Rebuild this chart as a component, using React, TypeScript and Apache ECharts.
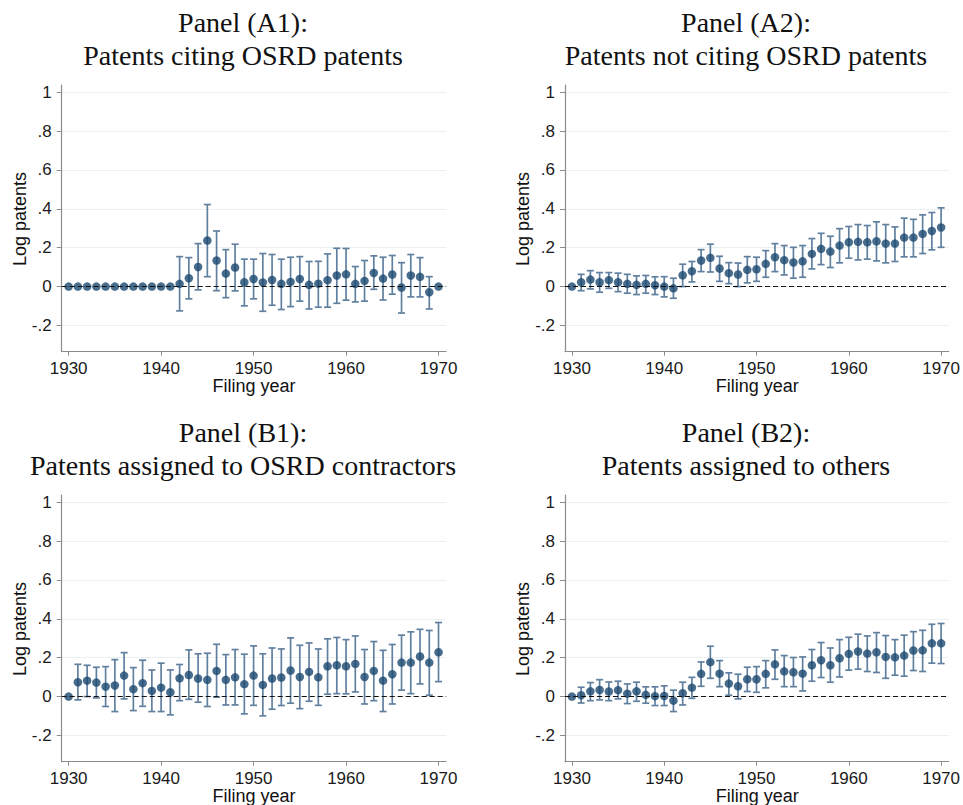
import React, { useEffect, useRef } from "react";
import * as echarts from "echarts";

const years: number[] = [
  1930, 1931, 1932, 1933, 1934, 1935, 1936, 1937, 1938, 1939,
  1940, 1941, 1942, 1943, 1944, 1945, 1946, 1947, 1948, 1949,
  1950, 1951, 1952, 1953, 1954, 1955, 1956, 1957, 1958, 1959,
  1960, 1961, 1962, 1963, 1964, 1965, 1966, 1967, 1968, 1969, 1970,
];

const yTicks = [-0.2, 0, 0.2, 0.4, 0.6, 0.8, 1];
const xTicks = [1930, 1940, 1950, 1960, 1970];

const titlesA1 = ["Panel (A1):", "Patents citing OSRD patents"];
const titlesA2 = ["Panel (A2):", "Patents not citing OSRD patents"];
const titlesB1 = ["Panel (B1):", "Patents assigned to OSRD contractors"];
const titlesB2 = ["Panel (B2):", "Patents assigned to others"];

const yTitle = "Log patents";
const xTitle = "Filing year";

// Panel A1
const estA1 = [
  0, 0, 0, 0, 0, 0, 0, 0, 0, 0,
  0, 0, 0.014, 0.043, 0.101, 0.237, 0.134, 0.067, 0.098, 0.022,
  0.039, 0.021, 0.034, 0.014, 0.024, 0.039, 0.009, 0.015, 0.033, 0.057,
  0.063, 0.014, 0.029, 0.07, 0.041, 0.062, -0.005, 0.057, 0.05, -0.029, 0,
];
const loA1 = [
  null, null, null, null, null, null, null, null, null, null,
  null, null, -0.125, -0.063, -0.017, 0.051, -0.021, -0.057, -0.022, -0.099,
  -0.063, -0.127, -0.096, -0.118, -0.103, -0.075, -0.115, -0.106, -0.106, -0.086,
  -0.07, -0.079, -0.075, -0.014, -0.069, -0.039, -0.136, -0.053, -0.053, -0.115, null,
];
const hiA1 = [
  null, null, null, null, null, null, null, null, null, null,
  null, null, 0.154, 0.149, 0.221, 0.422, 0.286, 0.19, 0.218, 0.141,
  0.141, 0.17, 0.165, 0.141, 0.151, 0.154, 0.129, 0.13, 0.168, 0.197,
  0.196, 0.103, 0.134, 0.158, 0.151, 0.16, 0.123, 0.165, 0.149, 0.051, null,
];

// Panel A2
const estA2 = [
  0, 0.022, 0.036, 0.022, 0.033, 0.022, 0.014, 0.009, 0.014, 0.007,
  0, -0.009, 0.058, 0.079, 0.134, 0.148, 0.093, 0.069, 0.062, 0.086,
  0.089, 0.117, 0.151, 0.136, 0.124, 0.13, 0.168, 0.194, 0.18, 0.211,
  0.228, 0.23, 0.228, 0.233, 0.221, 0.221, 0.252, 0.252, 0.271, 0.286, 0.304,
];
const loA2 = [
  null, -0.021, -0.012, -0.029, -0.009, -0.026, -0.034, -0.041, -0.034, -0.041,
  -0.053, -0.06, 0.0, 0.024, 0.077, 0.075, 0.027, 0.015, 0.0, 0.019,
  0.027, 0.048, 0.077, 0.06, 0.043, 0.048, 0.091, 0.113, 0.098, 0.122,
  0.146, 0.137, 0.141, 0.132, 0.122, 0.129, 0.153, 0.153, 0.17, 0.189, 0.202,
];
const hiA2 = [
  null, 0.063, 0.082, 0.072, 0.072, 0.069, 0.063, 0.055, 0.057, 0.05,
  0.051, 0.043, 0.115, 0.129, 0.19, 0.218, 0.156, 0.123, 0.121, 0.154,
  0.151, 0.185, 0.221, 0.211, 0.202, 0.211, 0.247, 0.274, 0.259, 0.298,
  0.309, 0.319, 0.314, 0.333, 0.319, 0.307, 0.352, 0.346, 0.369, 0.381, 0.405,
];

// Panel B1
const estB1 = [
  0, 0.074, 0.082, 0.072, 0.051, 0.057, 0.108, 0.038, 0.069, 0.029,
  0.046, 0.022, 0.094, 0.111, 0.093, 0.086, 0.132, 0.086, 0.099, 0.064,
  0.108, 0.06, 0.093, 0.098, 0.134, 0.101, 0.127, 0.099, 0.156, 0.161,
  0.156, 0.168, 0.101, 0.132, 0.082, 0.115, 0.175, 0.175, 0.206, 0.175, 0.228,
];
const loB1 = [
  null, -0.017, 0.0, -0.007, -0.051, -0.077, -0.012, -0.072, -0.05, -0.077,
  -0.077, -0.094, -0.021, -0.014, -0.029, -0.051, -0.003, -0.043, -0.043, -0.089,
  -0.045, -0.099, -0.065, -0.046, -0.034, -0.062, -0.024, -0.045, 0.012, 0.015,
  0.014, 0.024, -0.038, -0.021, -0.077, -0.038, 0.033, 0.015, 0.065, 0.007, 0.077,
];
const hiB1 = [
  null, 0.166, 0.161, 0.151, 0.154, 0.19, 0.226, 0.149, 0.187, 0.137,
  0.172, 0.137, 0.165, 0.24, 0.22, 0.223, 0.269, 0.216, 0.242, 0.218,
  0.261, 0.22, 0.25, 0.245, 0.302, 0.264, 0.276, 0.245, 0.297, 0.304,
  0.293, 0.312, 0.242, 0.283, 0.238, 0.268, 0.316, 0.333, 0.346, 0.34, 0.381,
];

// Panel B2
const estB2 = [
  0, 0.007, 0.027, 0.034, 0.026, 0.033, 0.015, 0.027, 0.009, 0.002,
  0.003, -0.021, 0.017, 0.046, 0.117, 0.177, 0.118, 0.067, 0.053, 0.089,
  0.089, 0.117, 0.166, 0.13, 0.125, 0.118, 0.161, 0.187, 0.161, 0.197,
  0.22, 0.232, 0.221, 0.228, 0.204, 0.202, 0.211, 0.237, 0.238, 0.274, 0.274,
];
const loB2 = [
  null, -0.033, -0.021, -0.017, -0.021, -0.012, -0.036, -0.024, -0.034, -0.046,
  -0.046, -0.077, -0.043, -0.009, 0.053, 0.094, 0.051, 0.007, -0.012, 0.026,
  0.022, 0.045, 0.089, 0.051, 0.051, 0.029, 0.079, 0.098, 0.074, 0.101,
  0.136, 0.141, 0.129, 0.124, 0.094, 0.11, 0.105, 0.134, 0.129, 0.172, 0.17,
];
const hiB2 = [
  null, 0.048, 0.072, 0.087, 0.075, 0.079, 0.065, 0.074, 0.05, 0.05,
  0.055, 0.033, 0.074, 0.099, 0.178, 0.259, 0.185, 0.122, 0.115, 0.151,
  0.154, 0.185, 0.24, 0.211, 0.201, 0.204, 0.242, 0.278, 0.25, 0.293,
  0.305, 0.321, 0.312, 0.329, 0.314, 0.293, 0.316, 0.334, 0.341, 0.372, 0.376,
];

const panels = [
  { titles: titlesA1, est: estA1, lo: loA1, hi: hiA1 },
  { titles: titlesA2, est: estA2, lo: loA2, hi: hiA2 },
  { titles: titlesB1, est: estB1, lo: loB1, hi: hiB1 },
  { titles: titlesB2, est: estB2, lo: loB2, hi: hiB2 },
];

const NAVY = "#1a476f";
const BAR = "#61809f";
const AXIS = "#8c8c8c";
const GRIDC = "#e9f0f2";
const SANS = "'Liberation Sans', Arial, sans-serif";
const SERIF = "'Liberation Serif', 'Times New Roman', serif";

const GRID_W = 384.5;
const GRID_H = 266.7;
const positions = [
  { left: 61.7, top: 85 },
  { left: 565, top: 85 },
  { left: 61.7, top: 495 },
  { left: 565, top: 495 },
];

function fmtY(v: number): string {
  if (Math.abs(v) < 1e-9) return "0";
  if (Math.abs(v - 1) < 1e-9) return "1";
  const s = v.toFixed(1);
  return s.replace(/^(-?)0\./, "$1.");
}

export default function App() {
  const ref = useRef<HTMLDivElement>(null);

  useEffect(() => {
    if (!ref.current) return;
    const chart = echarts.init(ref.current, undefined, { renderer: "svg" });

    const grid: any[] = [];
    const xAxis: any[] = [];
    const yAxis: any[] = [];
    const series: any[] = [];
    const graphic: any[] = [];

    panels.forEach((p, i) => {
      const pos = positions[i];
      grid.push({ left: pos.left, top: pos.top, width: GRID_W, height: GRID_H, containLabel: false });
      xAxis.push({
        type: "value",
        gridIndex: i,
        min: 1929.25,
        max: 1970.83,
        axisLine: { show: true, onZero: false, lineStyle: { color: AXIS, width: 1.2 } },
        axisTick: { show: true, length: 4, lineStyle: { color: AXIS }, customValues: xTicks },
        axisLabel: {
          customValues: xTicks,
          margin: 8,
          color: "#1a1a1a",
          fontFamily: SANS,
          fontSize: 17,
          formatter: (v: number) => String(Math.round(v)),
        },
        splitLine: { show: false },
      });
      yAxis.push({
        type: "value",
        gridIndex: i,
        min: -0.335,
        max: 1.037,
        axisLine: { show: true, onZero: false, lineStyle: { color: AXIS, width: 1.2 } },
        axisTick: { show: true, length: 5, lineStyle: { color: AXIS }, customValues: yTicks },
        axisLabel: {
          customValues: yTicks,
          margin: 10,
          color: "#1a1a1a",
          fontFamily: SANS,
          fontSize: 17,
          formatter: (v: number) => fmtY(v),
        },
        splitLine: { show: true, lineStyle: { color: GRIDC, width: 1 } },
      });

      const bars: any[] = [];
      years.forEach((yr, k) => {
        if (p.lo[k] !== null && p.hi[k] !== null) bars.push([yr, p.lo[k], p.hi[k]]);
      });

      series.push({
        type: "custom",
        xAxisIndex: i,
        yAxisIndex: i,
        z: 2,
        silent: true,
        data: bars,
        renderItem: (params: any, api: any) => {
          const x = api.value(0);
          const a = api.coord([x, api.value(1)]);
          const b = api.coord([x, api.value(2)]);
          const cw = 3.5;
          const st = { stroke: BAR, lineWidth: 1.7 };
          return {
            type: "group",
            children: [
              { type: "line", shape: { x1: a[0], y1: a[1], x2: b[0], y2: b[1] }, style: st },
              { type: "line", shape: { x1: a[0] - cw, y1: a[1], x2: a[0] + cw, y2: a[1] }, style: st },
              { type: "line", shape: { x1: b[0] - cw, y1: b[1], x2: b[0] + cw, y2: b[1] }, style: st },
            ],
          };
        },
        markLine: {
          silent: true,
          symbol: "none",
          label: { show: false },
          lineStyle: { color: "#111", width: 1.1, type: [5, 3] },
          data: [{ yAxis: 0 }],
        },
      });

      series.push({
        type: "scatter",
        xAxisIndex: i,
        yAxisIndex: i,
        z: 3,
        silent: true,
        symbol: "circle",
        symbolSize: 8.5,
        itemStyle: { color: NAVY },
        data: years.map((yr, k) => [yr, p.est[k]]),
      });

      const cx = i % 2 === 0 ? 243 : 746;
      const ty = i < 2 ? 0 : 410;
      graphic.push({
        type: "text",
        x: cx,
        y: 22 + ty,
        style: { text: p.titles[0], fontFamily: SERIF, fontSize: 28, fill: "#111", textAlign: "center", textVerticalAlign: "middle" },
      });
      graphic.push({
        type: "text",
        x: cx,
        y: 55 + ty,
        style: { text: p.titles[1], fontFamily: SERIF, fontSize: 28, fill: "#111", textAlign: "center", textVerticalAlign: "middle" },
      });
      graphic.push({
        type: "text",
        x: pos.left - 42,
        y: 219 + ty,
        rotation: Math.PI / 2,
        style: { text: yTitle, fontFamily: SANS, fontSize: 18, fill: "#111", textAlign: "center", textVerticalAlign: "middle" },
      });
      graphic.push({
        type: "text",
        x: pos.left + GRID_W / 2,
        y: 386 + ty,
        style: { text: xTitle, fontFamily: SANS, fontSize: 18, fill: "#111", textAlign: "center", textVerticalAlign: "middle" },
      });
    });

    chart.setOption({
      animation: false,
      backgroundColor: "#ffffff",
      grid,
      xAxis,
      yAxis,
      series,
      graphic,
    });

    return () => chart.dispose();
  }, []);

  return (
    <div
      ref={ref}
      style={{ position: "fixed", left: 0, top: 0, width: 963, height: 805, background: "#fff" }}
    />
  );
}
